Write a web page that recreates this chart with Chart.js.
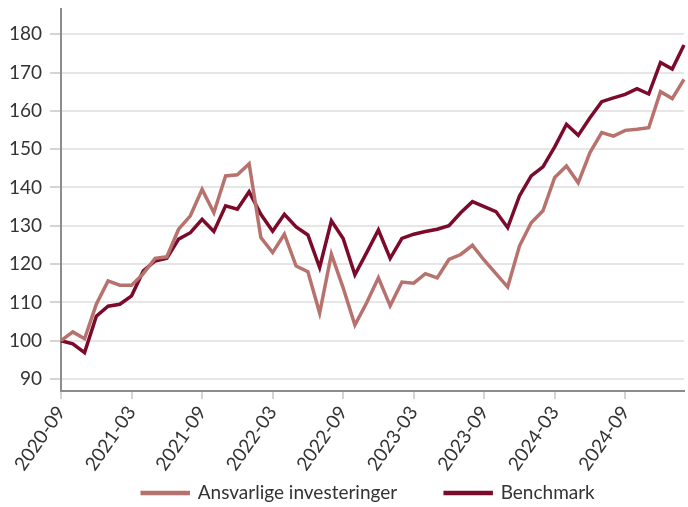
<html>
<head>
<script src="https://cdn.jsdelivr.net/npm/chart.js@4/dist/chart.umd.min.js"></script>
<style>
  body { margin: 0; background: #fff; }
  #wrap { width: 688px; height: 507px; position: relative; }
</style>
</head>
<body>
<div id="wrap"><canvas id="perf"></canvas></div>

<script>
// monthly index values, 2020-09 .. 2025-02 (start = 100)
var months = [];
for (var y = 2020; y <= 2025; y++) {
	for (var m = 1; m <= 12; m++) {
		if ((y == 2020 && m < 9) || (y == 2025 && m > 2)) continue;
		months.push(y + '-' + (m < 10 ? '0' + m : m));
	}
}

var ansvarlige = [100, 102.3, 100.5, 109.5, 115.6, 114.5, 114.5, 117.5, 121.5, 121.9,
	129.1, 132.6, 139.5, 133.4, 143, 143.3, 146.2, 126.9, 123, 127.8,
	119.5, 118, 107.2, 122.6, 113.8, 104.1, 109.9, 116.4, 109.1, 115.3,
	115, 117.5, 116.4, 121.2, 122.5, 124.9, 121, 117.5, 114, 124.7,
	130.8, 133.9, 142.6, 145.6, 141.2, 149.1, 154.3, 153.4, 154.9, 155.2,
	155.6, 165, 163.2, 168.2];

var benchmark = [100, 99.2, 96.9, 106.4, 109, 109.5, 111.7, 118.2, 120.8, 121.5,
	126.5, 128.2, 131.7, 128.5, 135.2, 134.3, 138.9, 133, 128.6, 133,
	129.7, 127.6, 119.1, 131.3, 126.7, 117.2, 123, 128.9, 121.5, 126.7,
	127.8, 128.5, 129.1, 130, 133.4, 136.3, 135, 133.7, 129.5, 137.8,
	143, 145.4, 150.6, 156.5, 153.6, 158.2, 162.4, 163.4, 164.3, 165.8,
	164.4, 172.6, 170.9, 177.2];

var yTicks = [90, 100, 110, 120, 130, 140, 150, 160, 170, 180];

var lightColor = '#b7726d';
var darkColor = '#7b0a2b';
var fontFamily = 'Lato, "Open Sans", sans-serif';

// legend: wide gap between items, but a short box; text pinned near the bottom,
// centred under the plot area rather than the whole canvas
var legendGap = {
	id: 'legendGap',
	beforeUpdate: function(chart) {
		var lg = chart.legend;
		if (!lg || lg._gapPatched) return;
		lg._gapPatched = true;
		var fit = lg.fit, draw = lg.draw;
		lg.fit = function() { fit.call(this); this.height = 29; };
		lg.draw = function() {
			var pad = this.options.labels.padding;
			var dy = this.top + pad + 9.5 - 493;
			var dx = 26;
			this.top -= dy; this.left += dx; this.right += dx;
			draw.call(this);
			this.top += dy; this.left -= dx; this.right -= dx;
		};
	}
};

new Chart(document.getElementById('perf'), {
	type: 'line',
	data: {
		labels: months,
		datasets: [
			{
				label: 'Ansvarlige investeringer',
				data: ansvarlige,
				borderColor: lightColor,
				backgroundColor: lightColor,
				borderWidth: 3.5,
				pointRadius: 0,
				tension: 0,
				fill: false
			},
			{
				label: 'Benchmark',
				data: benchmark,
				borderColor: darkColor,
				backgroundColor: darkColor,
				borderWidth: 3.5,
				pointRadius: 0,
				tension: 0,
				fill: false
			}
		]
	},
	plugins: [legendGap],
	options: {
		responsive: true,
		maintainAspectRatio: false,
		animation: false,
		layout: { padding: { left: 1, right: 4, top: 0, bottom: 0 } },
		plugins: {
			tooltip: { enabled: false },
			legend: {
				position: 'bottom',
				labels: {
					boxWidth: 46,
					boxHeight: 1,
					padding: 48,
					color: '#333',
					font: { family: fontFamily, size: 19 }
				}
			}
		},
		scales: {
			x: {
				offset: false,
				grid: { drawOnChartArea: false, tickLength: 8, tickColor: '#d4d4d4', lineWidth: 2 },
				border: { color: '#8c8c8c', width: 2 },
				ticks: {
					autoSkip: false,
					minRotation: 55,
					maxRotation: 55,
					color: '#333',
					font: { family: fontFamily, size: 19 },
					callback: function(val, i) { return i % 6 === 0 ? months[i] : null; }
				}
			},
			y: {
				min: 86.87,
				max: 186.6,
				grid: { color: '#e6e6e6', lineWidth: 2, tickLength: 11, tickColor: '#d4d4d4' },
				border: { color: '#8c8c8c', width: 2 },
				afterBuildTicks: function(axis) {
					axis.ticks = yTicks.map(function(v) { return { value: v }; });
				},
				ticks: {
					color: '#333',
					padding: 8,
					font: { family: fontFamily, size: 19, lineHeight: 0.1 }
				}
			}
		}
	}
});
</script>
</body>
</html>
